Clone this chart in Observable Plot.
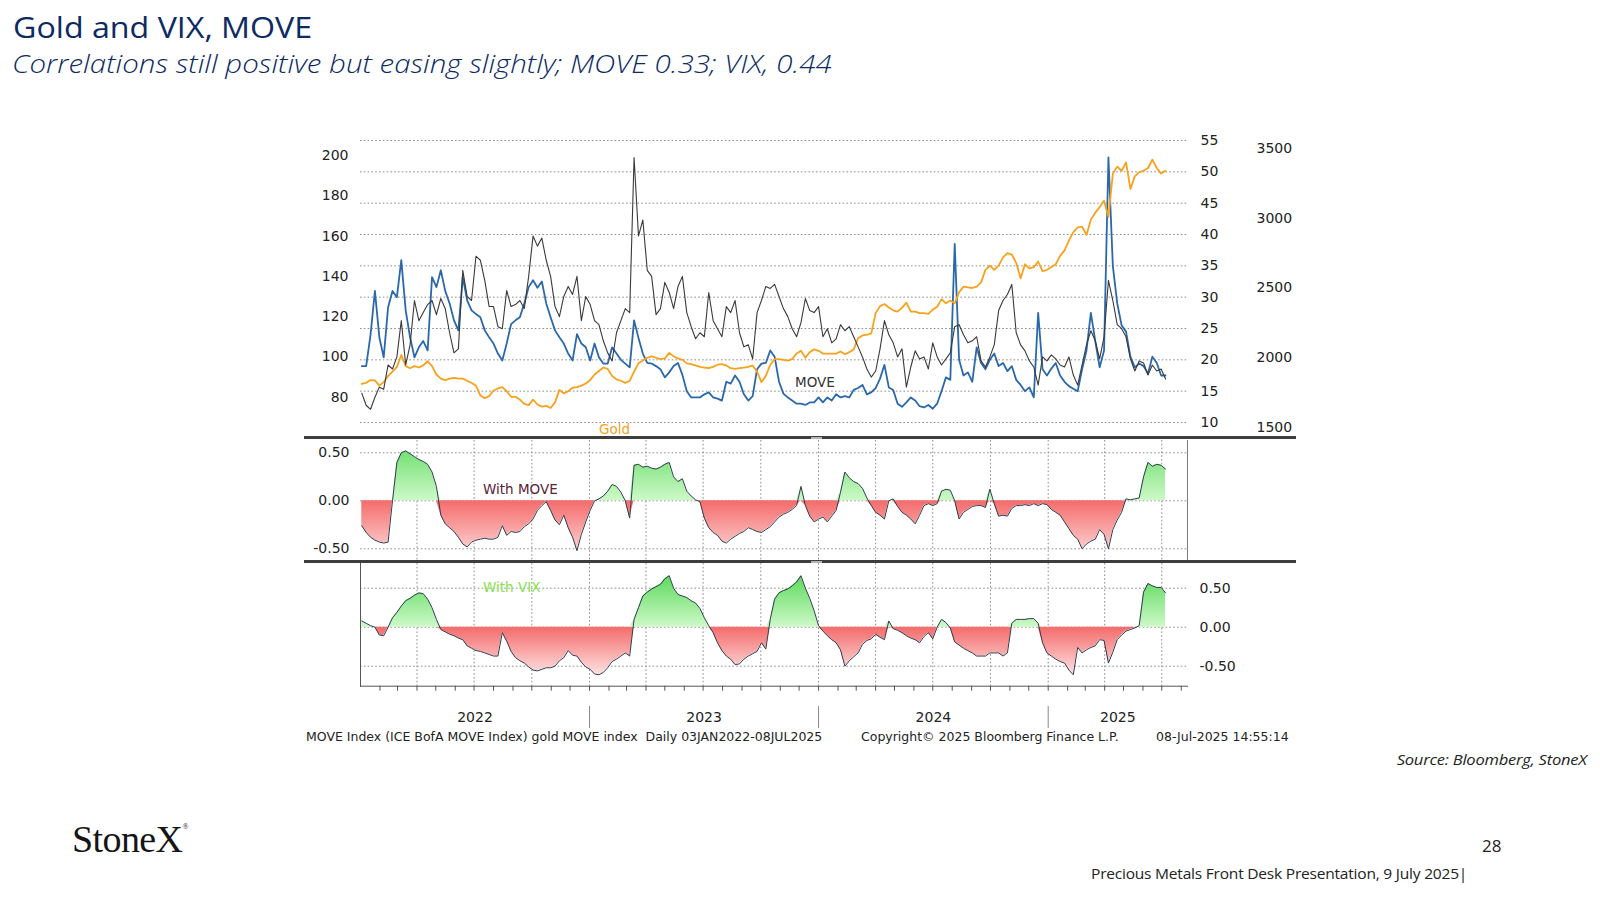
<!DOCTYPE html>
<html><head><meta charset="utf-8">
<script src="https://cdn.jsdelivr.net/npm/d3@7"></script>
<script src="https://cdn.jsdelivr.net/npm/@observablehq/plot@0.6"></script>
<style>
body{margin:0;background:#fff;}
#page{position:relative;width:1600px;height:900px;overflow:hidden;background:#fff;}
.t{position:absolute;white-space:nowrap;line-height:1;}
.bb{font-family:"DejaVu Sans",sans-serif;}
</style></head><body><div id="page"></div>
<script>
// ---- data (weekly, Mondays 03-Jan-2022 .. 07-Jul-2025) ----
const moveIndex = [82,76,74,80,85,84,96,94,100,118,
 96,106,128,118,122,126,128,121,129,124,
 112,102,104,143,130,128,150,148,138,125,
 125,115,114,133,125,126,128,124,140,160,
 155,159,148,140,125,120,130,135,131,140,
 118,130,126,118,116,108,102,98,112,118,
 124,122,199,160,168,143,140,121,124,137,
 132,124,135,140,122,115,109,112,110,132,
 118,114,110,125,122,128,112,105,106,99,
 122,128,135,134,136,130,124,120,114,110,
 117,129,123,122,125,110,114,107,109,116,
 113,115,110,105,100,94,90,93,104,118,
 111,107,100,104,85,95,103,99,100,94,
 107,100,96,99,102,115,116,111,107,108,
 110,98,95,100,106,123,128,131,136,112,
 106,103,98,95,86,100,98,101,99,96,
 95,100,91,86,96,106,113,108,99,110,
 138,128,116,114,110,99,93,98,97,91,
 96,93,94,89];
const vixIndex = [19,19,24,31,23.6,20.4,28.4,31,30,35.9,
 27.9,23.6,20.4,22,23,21.5,33.2,31.6,34.3,31,
 29,26.3,24.7,33.2,29.5,27.9,27.3,26.8,24.7,23.6,
 22.6,21,19.9,22.6,25.7,26.3,26.8,29,31.6,32.7,
 31.5,32.5,29,26.8,24.7,23.6,22.6,21,19.9,24.1,
 22.6,22,19.9,22.6,20.4,19.4,19.4,22,21,20,
 19.4,18.8,26.3,23.5,21,19.5,19.4,19,18.5,17.2,
 18,19,19.5,17.6,15,14,14,14,14.5,14.8,
 14,13.8,13.5,16.5,16.2,17.5,16.5,14.5,13.5,14.2,
 18.5,19.4,19.5,21.5,20.5,16.5,14.6,14,13.5,13,
 13,12.8,13.2,13.2,14,13.2,14,13.5,14.5,14,
 14.2,14,15.2,15.5,16,14.5,14.8,15.5,17,19.2,
 15.6,15.2,13,12.5,13.2,14,13.5,12.6,12.4,12.8,
 12.2,13,15,17.2,16.8,38.5,20,17.5,18,16.5,
 22,19.5,18.5,20,21,19,19.5,18.2,19,16.8,
 16,15,15.6,14,27.5,18.5,17.5,18.6,19.5,17.5,
 16.5,15.8,15.4,15,18.5,21.5,27.5,23,18.8,21.5,
 52.3,35,29,25.5,24.5,20.5,18.8,19.4,19,17.8,
 20.5,19.5,17.5,17.5];
const goldPrice = [1812,1820,1840,1838,1800,1825,1870,1900,1935,2020,
 1940,1925,1940,1930,1945,1975,1940,1880,1850,1840,
 1850,1855,1850,1850,1835,1820,1800,1730,1710,1725,
 1765,1780,1790,1760,1720,1720,1700,1670,1660,1700,
 1665,1650,1655,1640,1680,1770,1745,1760,1785,1790,
 1800,1815,1840,1880,1905,1930,1920,1870,1845,1835,
 1820,1835,1900,1960,1980,2000,2010,2000,1990,1995,
 2035,2010,1995,1985,1960,1955,1945,1935,1930,1925,
 1935,1950,1955,1945,1925,1920,1925,1930,1935,1945,
 1900,1825,1870,1950,1990,1990,1985,1980,1990,2030,
 2050,2000,2040,2060,2050,2030,2030,2030,2030,2045,
 2025,2040,2060,2140,2160,2165,2175,2320,2370,2385,
 2360,2340,2330,2360,2395,2330,2330,2320,2320,2315,
 2345,2365,2420,2390,2410,2390,2470,2510,2505,2500,
 2510,2540,2630,2660,2630,2660,2720,2750,2740,2680,
 2570,2670,2640,2650,2690,2620,2630,2650,2670,2730,
 2770,2840,2900,2935,2940,2880,2990,3040,3080,3125,
 3010,3320,3370,3340,3400,3210,3300,3330,3340,3360,
 3420,3360,3320,3340];
const corrMove = [-0.26,-0.33,-0.38,-0.41,-0.43,-0.44,-0.43,0.0,0.40,0.50,
 0.52,0.49,0.46,0.43,0.41,0.38,0.30,0.15,-0.15,-0.24,
 -0.28,-0.32,-0.38,-0.45,-0.48,-0.43,-0.41,-0.40,-0.39,-0.40,
 -0.40,-0.38,-0.26,-0.36,-0.32,-0.33,-0.32,-0.27,-0.24,-0.19,
 -0.10,-0.05,-0.01,-0.10,-0.20,-0.25,-0.15,-0.28,-0.38,-0.52,
 -0.35,-0.22,-0.10,0.0,0.02,0.05,0.10,0.17,0.15,0.09,
 0.0,-0.18,0.37,0.38,0.35,0.36,0.34,0.33,0.35,0.38,
 0.40,0.25,0.20,0.23,0.10,0.05,0.01,-0.01,-0.18,-0.28,
 -0.33,-0.36,-0.42,-0.44,-0.40,-0.37,-0.34,-0.32,-0.28,-0.30,
 -0.32,-0.33,-0.30,-0.27,-0.22,-0.17,-0.14,-0.12,-0.09,-0.05,
 0.15,-0.05,-0.16,-0.22,-0.19,-0.17,-0.22,-0.16,-0.10,0.09,
 0.30,0.24,0.20,0.18,0.13,0.03,-0.05,-0.12,-0.15,-0.19,
 0.00,0.02,-0.06,-0.12,-0.15,-0.19,-0.24,-0.15,-0.05,-0.03,
 -0.05,-0.03,0.10,0.12,0.11,0.00,-0.19,-0.12,-0.09,-0.06,
 -0.05,-0.05,-0.07,0.12,-0.03,-0.16,-0.15,-0.16,-0.08,-0.05,
 -0.05,-0.04,-0.05,-0.03,-0.05,-0.03,-0.04,-0.09,-0.12,-0.15,
 -0.22,-0.29,-0.36,-0.40,-0.50,-0.45,-0.42,-0.40,-0.30,-0.35,
 -0.50,-0.30,-0.20,-0.12,0.02,0.01,0.02,0.03,0.25,0.40,
 0.36,0.38,0.37,0.33];
const corrVix = [0.08,0.05,0.02,0.0,-0.10,-0.11,0.0,0.12,0.19,0.27,
 0.34,0.37,0.41,0.44,0.43,0.36,0.25,0.10,-0.03,-0.06,
 -0.09,-0.11,-0.14,-0.16,-0.24,-0.27,-0.30,-0.31,-0.33,-0.35,
 -0.37,-0.37,-0.07,-0.18,-0.31,-0.39,-0.43,-0.46,-0.51,-0.55,
 -0.56,-0.54,-0.52,-0.52,-0.50,-0.43,-0.39,-0.30,-0.36,-0.37,
 -0.45,-0.51,-0.54,-0.60,-0.61,-0.58,-0.52,-0.44,-0.41,-0.37,
 -0.33,-0.37,0.10,0.25,0.40,0.45,0.49,0.52,0.55,0.62,
 0.66,0.50,0.42,0.40,0.38,0.34,0.31,0.24,0.12,0.02,
 -0.07,-0.20,-0.30,-0.37,-0.41,-0.48,-0.47,-0.41,-0.37,-0.34,
 -0.31,-0.20,-0.28,0.10,0.36,0.44,0.47,0.49,0.53,0.58,
 0.66,0.50,0.37,0.21,0.02,-0.05,-0.11,-0.16,-0.20,-0.29,
 -0.50,-0.43,-0.38,-0.33,-0.22,-0.17,-0.15,-0.09,-0.13,-0.16,
 0.08,-0.02,-0.04,-0.07,-0.11,-0.14,-0.16,-0.20,-0.12,-0.07,
 -0.15,0.0,0.10,0.06,-0.01,-0.19,-0.23,-0.27,-0.30,-0.33,
 -0.37,-0.37,-0.37,-0.33,-0.33,-0.33,-0.37,-0.33,0.05,0.10,
 0.10,0.10,0.11,0.11,0.05,-0.20,-0.33,-0.37,-0.41,-0.44,
 -0.46,-0.55,-0.61,-0.26,-0.33,-0.29,-0.26,-0.24,-0.16,-0.17,
 -0.46,-0.32,-0.16,-0.10,-0.05,-0.03,-0.01,0.02,0.45,0.56,
 0.53,0.51,0.51,0.44];
const moveTicks = [80,100,120,140,160,180,200];
const vixTicks = [10,15,20,25,30,35,40,45,50,55];
const goldTicks = [1500,2000,2500,3000,3500];
const corrTicks = [-0.5,0,0.5];
const yearLabels = ["2022","2023","2024","2025"];

// ---- build ----
const page = document.getElementById("page");
const weeks = d3.utcMonday.range(new Date(Date.UTC(2022,0,3)), new Date(Date.UTC(2025,6,8)));
const rows = weeks.map((date,i) => ({date, move: moveIndex[i], vix: vixIndex[i], gold: goldPrice[i], cm: corrMove[i], cv: corrVix[i]}));
const x0 = new Date(Date.UTC(2022,0,1)), x1 = new Date(Date.UTC(2025,7,11));
const quarters = d3.utcMonth.every(3).range(x0, x1).slice(1);
const months = d3.utcMonth.range(x0, x1).slice(1);
const yearStarts = yearLabels.map(y => new Date(Date.UTC(+y,0,1)));
const yearRows = yearLabels.map((label,i) => {
  const a = Math.max(+yearStarts[i], +x0), b = Math.min(+new Date(Date.UTC(+label+1,0,1)), +x1);
  return {label, date: new Date((a+b)/2)};
});
const FONT = "'DejaVu Sans', sans-serif";
function base(h, mt, mb, y) {
  return {width: 1600, height: h, marginLeft: 360, marginRight: 413, marginTop: mt, marginBottom: mb,
    x: {type: "utc", domain: [x0, x1], axis: null},
    y: Object.assign({axis: null}, y),
    style: {fontFamily: FONT, fontSize: "14px", color: "#222", background: "transparent", overflow: "visible"}};
}
function place(el, top, z) { el.style.position = "absolute"; el.style.left = "0px"; el.style.top = top + "px"; if (z) el.style.zIndex = z; page.appendChild(el); }
const dotted = {stroke: "#8c8c8c", strokeOpacity: 1, strokeDasharray: "1.6,2.2", strokeWidth: 1};
const plain = d => String(d);

// top panel: VIX (grid + right axis)
const pV = Plot.plot({...base(310, 0, 0, {domain: [10,55], range: [292,10]}),
  marks: [
    Plot.gridY(vixTicks, dotted),
    Plot.axisY(vixTicks, {anchor: "right", tickSize: 0, tickPadding: 13, tickFormat: plain, label: null, fontSize: 14}),
    Plot.line(rows, {x: "date", y: "vix", stroke: "#2a68ab", strokeWidth: 1.8})
  ]});
place(pV, 130);
// Gold (far right axis)
const pG = Plot.plot({...base(310, 0, 0, {domain: [1500,3500], range: [297,18]}),
  marks: [
    Plot.axisY(goldTicks, {anchor: "right", tickSize: 0, tickPadding: 69, tickFormat: plain, label: null, fontSize: 14}),
    Plot.line(rows, {x: "date", y: "gold", stroke: "#f8a21c", strokeWidth: 1.8})
  ]});
place(pG, 130);
// MOVE (left axis)
const pM = Plot.plot({...base(310, 0, 0, {domain: [80,200], range: [266.7,25]}),
  marks: [
    Plot.axisY(moveTicks, {anchor: "left", tickSize: 0, tickPadding: 12, tickFormat: plain, label: null, fontSize: 14}),
    Plot.line(rows, {x: "date", y: "move", stroke: "#3a3a3a", strokeWidth: 1.1})
  ]});
place(pM, 130);

function addGradients(svg, y, p) {
  const ns = "http://www.w3.org/2000/svg";
  const defs = document.createElementNS(ns, "defs");
  const grad = (id, ya, yb, c1, c2) => {
    const g = document.createElementNS(ns, "linearGradient");
    g.setAttribute("id", id); g.setAttribute("gradientUnits", "userSpaceOnUse");
    g.setAttribute("x1", 0); g.setAttribute("x2", 0); g.setAttribute("y1", ya); g.setAttribute("y2", yb);
    [[0,c1],[1,c2]].forEach(([o,c]) => { const s = document.createElementNS(ns, "stop"); s.setAttribute("offset", o); s.setAttribute("stop-color", c); g.appendChild(s); });
    defs.appendChild(g);
  };
  grad(p + "G", y(0.6), y(0), "#66dc66", "#cdf9c8");
  grad(p + "R", y(0), y(-0.62), "#f46b6b", "#ffe2e2");
  svg.insertBefore(defs, svg.firstChild);
}
const fmt2 = d => d.toFixed(2);

// middle panel: correlation with MOVE
const pCM = Plot.plot({...base(120, 0, 0, {domain: [-0.5,0.5], range: [108.3,12.3]}),
  marks: [
    Plot.gridY(corrTicks, dotted),
    Plot.gridX(quarters, dotted),
    Plot.areaY(rows, {x: "date", y1: 0, y2: d => Math.min(d.cm, 0), fill: "url(#cmR)"}),
    Plot.areaY(rows, {x: "date", y1: 0, y2: d => Math.max(d.cm, 0), fill: "url(#cmG)"}),
    Plot.line(rows, {x: "date", y: "cm", stroke: "#2f3d4f", strokeWidth: 1}),
    Plot.frame({anchor: "right", stroke: "#7a7a7a"}),
    Plot.axisY(corrTicks, {anchor: "left", tickSize: 0, tickPadding: 11, tickFormat: fmt2, label: null, fontSize: 14})
  ]});
addGradients(pCM, v => pCM.scale("y").apply(v), "cm");
place(pCM, 440);

// bottom panel: correlation with VIX
const pCV = Plot.plot({...base(140, 0, 17.3, {domain: [-0.5,0.5], range: [102.7,24.7]}),
  marks: [
    Plot.gridY(corrTicks, dotted),
    Plot.gridX(quarters, dotted),
    Plot.areaY(rows, {x: "date", y1: 0, y2: d => Math.min(d.cv, 0), fill: "url(#cvR)"}),
    Plot.areaY(rows, {x: "date", y1: 0, y2: d => Math.max(d.cv, 0), fill: "url(#cvG)"}),
    Plot.line(rows, {x: "date", y: "cv", stroke: "#2f3d4f", strokeWidth: 1}),
    Plot.frame({anchor: "left", stroke: "#555"}),
    Plot.frame({anchor: "bottom", stroke: "#555"}),
    Plot.axisX(months, {anchor: "bottom", tickSize: 5, tickFormat: () => "", label: null, stroke: "#555"}),
    Plot.axisY(corrTicks, {anchor: "right", tickSize: 0, tickPadding: 12, tickFormat: fmt2, label: null, fontSize: 14})
  ]});
addGradients(pCV, v => pCV.scale("y").apply(v), "cv");
place(pCV, 563);

// year strip
const pYr = Plot.plot({width: 1600, height: 50, marginLeft: 360, marginRight: 413, marginTop: 20, marginBottom: 8,
  x: {type: "utc", domain: [x0, x1], axis: null},
  style: {fontFamily: FONT, fontSize: "14px", color: "#222", background: "transparent", overflow: "visible"},
  marks: [
    Plot.ruleX(yearStarts.slice(1), {stroke: "#8a8a8a"}),
    Plot.text(yearRows, {x: "date", text: "label", frameAnchor: "middle", fontSize: 14, fill: "#222"})
  ]});
place(pYr, 686);

// ---- texts & separators ----
function txt(s, css) { const d = document.createElement("div"); d.className = "t"; d.textContent = s; Object.assign(d.style, css); page.appendChild(d); return d; }
txt("Gold and VIX, MOVE", {left: "13px", top: "12px", fontFamily: "'Open Sans', sans-serif", fontSize: "29px", color: "#0d2a63", transform: "scaleX(1.11)", transformOrigin: "left top"});
txt("Correlations still positive but easing slightly; MOVE 0.33; VIX, 0.44", {left: "12px", top: "51px", fontFamily: "'Open Sans', sans-serif", fontStyle: "italic", fontWeight: "300", fontSize: "25px", color: "#0d2a63", transform: "scaleX(1.18)", transformOrigin: "left top"});
const g = txt("Gold", {left: "599px", top: "423px", fontSize: "13.5px", color: "#f7a11c"}); g.classList.add("bb");
const m = txt("MOVE", {left: "795px", top: "376px", fontSize: "13.5px", color: "#333"}); m.classList.add("bb");
const wm = txt("With MOVE", {left: "483px", top: "483px", fontSize: "13.5px", color: "#5a2236"}); wm.classList.add("bb");
const wv = txt("With VIX", {left: "483px", top: "581px", fontSize: "13.5px", color: "#88e04c"}); wv.classList.add("bb");
const f1 = txt("MOVE Index (ICE BofA MOVE Index) gold MOVE index  Daily 03JAN2022-08JUL2025", {left: "306px", top: "731px", fontSize: "12.5px", color: "#222", whiteSpace: "pre"}); f1.classList.add("bb");
const f2 = txt("Copyright\u00A9 2025 Bloomberg Finance L.P.", {left: "861px", top: "731px", fontSize: "12.5px", color: "#222"}); f2.classList.add("bb");
const f3 = txt("08-Jul-2025 14:55:14", {left: "1156px", top: "731px", fontSize: "12.5px", color: "#222"}); f3.classList.add("bb");
txt("Source: Bloomberg, StoneX", {right: "13px", top: "753px", fontFamily: "'Open Sans', sans-serif", fontStyle: "italic", fontSize: "14.5px", color: "#222", letterSpacing: "-0.2px", transform: "scaleX(1.14)", transformOrigin: "right top"});
const logo = txt("StoneX", {left: "72px", top: "820px", fontFamily: "'Liberation Serif', serif", fontSize: "38px", color: "#151515", letterSpacing: "-0.6px"});
const reg = document.createElement("span"); reg.textContent = "\u00AE"; Object.assign(reg.style, {fontSize: "8px", verticalAlign: "top", position: "relative", top: "3px"}); logo.appendChild(reg);
txt("28", {left: "1482px", top: "837px", fontFamily: "'Open Sans', sans-serif", fontSize: "17px", color: "#222"});
txt("Precious Metals Front Desk Presentation, 9 July 2025|", {left: "1091px", top: "867px", fontFamily: "'Open Sans', sans-serif", fontSize: "14px", color: "#222", letterSpacing: "-0.2px", transform: "scaleX(1.11)", transformOrigin: "left top"});
function bar(top) { const d = document.createElement("div"); Object.assign(d.style, {position: "absolute", left: "304px", width: "992px", top: top + "px", height: "3px", background: "#3d3d3d", zIndex: 5}); page.appendChild(d);
  const h = document.createElement("div"); Object.assign(h.style, {position: "absolute", left: "811px", width: "11px", top: (top + 0.5) + "px", height: "2px", background: "#b5b5b5", zIndex: 6}); page.appendChild(h); }
bar(436); bar(560);
</script></body></html>
